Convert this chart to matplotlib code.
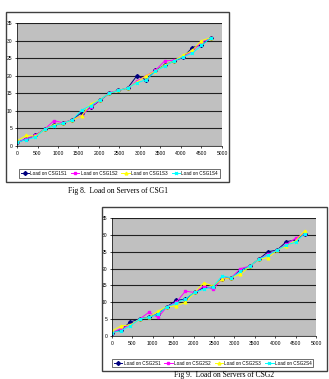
import matplotlib
matplotlib.use("Agg")
import matplotlib.pyplot as plt
from matplotlib.patches import Rectangle

# x positions (requests) shared by every series
steps = [0, 225, 450, 675, 900, 1125, 1350, 1575, 1800, 2025, 2250,
         2475, 2700, 2925, 3150, 3375, 3600, 3825, 4050, 4275, 4500, 4725]

# Fig 8, CSG1
csg1_s1 = [1, 2, 3, 4.8, 6, 6.5, 7.5, 9.5, 11, 13, 15, 15.8, 16.5, 20, 18.8, 21.5, 23, 24.2, 25.2, 28, 28.8, 30.7]
csg1_s2 = [1, 2, 3, 4.8, 7.2, 6.6, 7.5, 8.6, 11.2, 13, 15.2, 15.8, 16.5, 18.5, 20, 21.5, 24.2, 24.4, 25.4, 27, 29.5, 30.7]
csg1_s3 = [1.5, 3, 2.8, 4.8, 6, 6.5, 7.4, 8.6, 12, 13.2, 15, 15.8, 16.5, 18.2, 20, 21.3, 23, 24.2, 25.8, 27.2, 30, 30.8]
csg1_s4 = [1, 1.8, 2.5, 4.8, 5.8, 6.5, 7.4, 10.2, 11.5, 13.2, 15, 15.8, 16.5, 18, 18.8, 21.3, 22.7, 24.2, 25.3, 26.4, 28.6, 30.8]

# Fig 9, CSG2
csg2_s1 = [1, 1.8, 4.2, 5, 5.6, 6.5, 8.7, 10.6, 10.9, 12.9, 14.4, 14.4, 17, 17.3, 19.5, 20.7, 22.8, 25, 25.5, 28, 28.5, 30.4]
csg2_s2 = [1, 2.2, 3.3, 5, 7, 5.5, 8.7, 10, 13.3, 12.9, 14.8, 13.9, 17, 17.3, 20, 20.7, 22.8, 24.2, 25.5, 27.2, 29, 30.4]
csg2_s3 = [1.5, 3, 3.3, 5, 5.5, 7.4, 8.7, 8.9, 10, 12.9, 15.8, 14.8, 16.8, 17.3, 18.3, 20.7, 22.8, 23.2, 25.5, 26.8, 28.2, 31.2]
csg2_s4 = [1, 1.6, 3, 5, 5.5, 6.5, 8.7, 9.7, 11, 12.9, 13.9, 14.6, 17.8, 17.3, 19.2, 20.7, 22.8, 24, 25.5, 27, 27.8, 30.4]

xticks = [0, 500, 1000, 1500, 2000, 2500, 3000, 3500, 4000, 4500, 5000]
yticks = [0, 5, 10, 15, 20, 25, 30, 35]

colors = ['#000080', '#FF00FF', '#FFFF00', '#00FFFF']
markers = ['D', 's', '^', 'x']


def excel_chart(fig, box, area, series, names, legend_pos):
    '''draws one excel-like line chart inside a framed box'''
    fig.patches.append(Rectangle((box[0], box[1]), box[2], box[3],
                                 transform=fig.transFigure, fill=False,
                                 edgecolor='#404040', linewidth=1.0))
    ax = fig.add_axes(area)
    ax.set_facecolor('#C0C0C0')
    for y, c, m, n in zip(series, colors, markers, names):
        ax.plot(steps, y, color=c, marker=m, markersize=2.0,
                linewidth=0.7, label=n)
    ax.set_xlim(0, 5000)
    ax.set_ylim(0, 35)
    ax.set_xticks(xticks)
    ax.set_yticks(yticks)
    ax.tick_params(labelsize=3.6, length=1.5, width=0.5, pad=2)
    for t in ax.get_xticklabels() + ax.get_yticklabels():
        t.set_fontfamily('Liberation Sans')
    ax.yaxis.grid(True, color='#202020', linewidth=0.8)
    for s in ['top', 'right']:
        ax.spines[s].set_visible(False)
    for s in ['left', 'bottom']:
        ax.spines[s].set_linewidth(0.5)
    leg = ax.legend(loc='center', bbox_to_anchor=legend_pos,
                    bbox_transform=fig.transFigure, ncol=4,
                    frameon=True, fancybox=False, edgecolor='black',
                    handlelength=1.8, columnspacing=0.9,
                    handletextpad=0.3, borderpad=0.35, borderaxespad=0,
                    prop={'family': 'Liberation Sans', 'size': 3.3})
    leg.get_frame().set_linewidth(0.5)
    return ax


fig = plt.figure(figsize=(3.29, 3.79), dpi=100)

excel_chart(fig, (0.018, 0.52, 0.678, 0.448),
            (0.0517, 0.6148, 0.623, 0.3245),
            [csg1_s1, csg1_s2, csg1_s3, csg1_s4],
            ['Load on CSG1S1', 'Load on CSG1S2', 'Load on CSG1S3', 'Load on CSG1S4'],
            (0.363, 0.542))
fig.text(0.36, 0.496, 'Fig 8.  Load on Servers of CSG1', ha='center', va='center',
         fontsize=5.5, family='Liberation Serif')

excel_chart(fig, (0.31, 0.0211, 0.684, 0.4327),
            (0.3404, 0.1135, 0.62, 0.3113),
            [csg2_s1, csg2_s2, csg2_s3, csg2_s4],
            ['Load on CSG2S1', 'Load on CSG2S2', 'Load on CSG2S3', 'Load on CSG2S4'],
            (0.647, 0.042))
fig.text(0.68, 0.0, 'Fig 9.  Load on Servers of CSG2', ha='center', va='bottom',
         fontsize=5.5, family='Liberation Serif')

fig.savefig('out.png', dpi=100)
